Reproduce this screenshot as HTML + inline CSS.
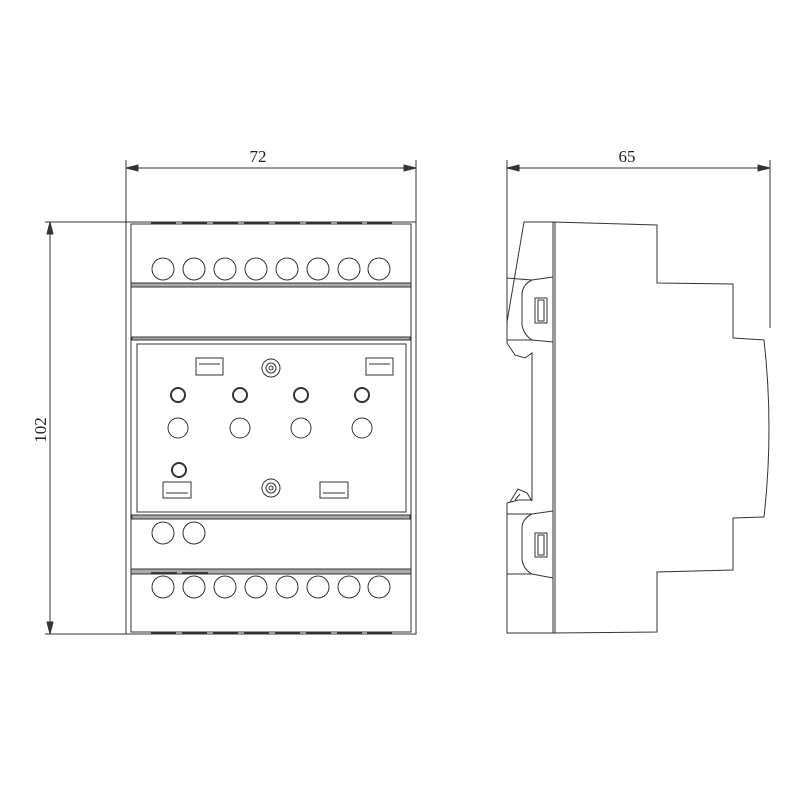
<!DOCTYPE html>
<html><head><meta charset="utf-8"><style>body{margin:0;background:#fff}svg{display:block}</style></head><body>
<svg width="800" height="800" viewBox="0 0 800 800" xmlns="http://www.w3.org/2000/svg" font-family="Liberation Serif, serif">
<g stroke="#333" stroke-width="1" fill="none">
<!-- dimensions -->
<line x1="126" y1="160" x2="126" y2="222"/><line x1="416" y1="160" x2="416" y2="222"/>
<line x1="126" y1="168" x2="416" y2="168"/>
<path d="M126 168 l12 -3 v6z M416 168 l-12 -3 v6z" fill="#333"/>
<line x1="45" y1="222" x2="126" y2="222"/><line x1="45" y1="634" x2="126" y2="634"/>
<line x1="50" y1="222" x2="50" y2="634"/>
<path d="M50 222 l-3 12 h6z M50 634 l-3 -12 h6z" fill="#333"/>
<line x1="507" y1="160" x2="507" y2="322"/><line x1="770" y1="160" x2="770" y2="328"/>
<line x1="507" y1="168" x2="770" y2="168"/>
<path d="M507 168 l12 -3 v6z M770 168 l-12 -3 v6z" fill="#333"/>
<!-- front view -->
<rect x="126" y="222" width="290" height="412"/>
<rect x="131" y="224" width="280" height="408"/>
<rect x="131" y="283" width="280" height="4" fill="#aaa"/>
<rect x="132" y="337" width="278" height="3" fill="#aaa"/>
<rect x="131" y="340" width="280" height="177"/>
<rect x="137" y="344" width="269" height="168"/>
<rect x="132" y="515" width="278" height="4" fill="#aaa"/>
<rect x="131" y="569" width="280" height="5" fill="#aaa"/>
<g stroke-width="1.8">
<line x1="151" y1="223" x2="176" y2="223"/><line x1="182" y1="223" x2="207" y2="223"/><line x1="213" y1="223" x2="238" y2="223"/><line x1="244" y1="223" x2="269" y2="223"/><line x1="275" y1="223" x2="300" y2="223"/><line x1="306" y1="223" x2="331" y2="223"/><line x1="337" y1="223" x2="362" y2="223"/><line x1="367" y1="223" x2="392" y2="223"/>
<line x1="151" y1="633" x2="176" y2="633"/><line x1="182" y1="633" x2="207" y2="633"/><line x1="213" y1="633" x2="238" y2="633"/><line x1="244" y1="633" x2="269" y2="633"/><line x1="275" y1="633" x2="300" y2="633"/><line x1="306" y1="633" x2="331" y2="633"/><line x1="337" y1="633" x2="362" y2="633"/><line x1="367" y1="633" x2="392" y2="633"/>
<line x1="151" y1="573" x2="177" y2="573"/><line x1="182" y1="573" x2="208" y2="573"/>
</g>
<g>
<circle cx="163" cy="269" r="11"/><circle cx="194" cy="269" r="11"/><circle cx="225" cy="269" r="11"/><circle cx="256" cy="269" r="11"/><circle cx="287" cy="269" r="11"/><circle cx="318" cy="269" r="11"/><circle cx="349" cy="269" r="11"/><circle cx="379" cy="269" r="11"/>
<circle cx="163" cy="587" r="11"/><circle cx="194" cy="587" r="11"/><circle cx="225" cy="587" r="11"/><circle cx="256" cy="587" r="11"/><circle cx="287" cy="587" r="11"/><circle cx="318" cy="587" r="11"/><circle cx="349" cy="587" r="11"/><circle cx="379" cy="587" r="11"/>
<circle cx="163" cy="533" r="11"/><circle cx="194" cy="533" r="11"/>
</g>
<rect x="196" y="358" width="27" height="17"/><line x1="199" y1="364" x2="220" y2="364"/>
<rect x="366" y="358" width="27" height="17"/><line x1="369" y1="364" x2="390" y2="364"/>
<circle cx="271" cy="368" r="9"/><circle cx="271" cy="368" r="5"/><circle cx="271" cy="368" r="2"/>
<g stroke-width="2"><circle cx="178" cy="395" r="7"/><circle cx="240" cy="395" r="7"/><circle cx="301" cy="395" r="7"/><circle cx="362" cy="395" r="7"/><circle cx="179" cy="470" r="7"/></g>
<circle cx="178" cy="428" r="10"/><circle cx="240" cy="428" r="10"/><circle cx="301" cy="428" r="10"/><circle cx="362" cy="428" r="10"/>
<rect x="163" y="482" width="28" height="16"/><line x1="166" y1="493" x2="188" y2="493"/>
<rect x="320" y="482" width="28" height="16"/><line x1="323" y1="493" x2="345" y2="493"/>
<circle cx="271" cy="488" r="9"/><circle cx="271" cy="488" r="5"/><circle cx="271" cy="488" r="2"/>
<!-- side view -->
<path d="M553 222 L657 225 L657 283 L733 284 L733 338 L764 340 Q774 428 764 517 L733 518 L733 570 L657 572 L657 632 L553 633 Z"/>
<path d="M555 222 L555 633"/>
<path d="M553 222 L524 222 L507 322 L507 343 L515 355 L525 358 L532 353 L532 500 L518 500 L507 503 L507 633 L553 633"/>
<path d="M507 278 L532 280 L553 277 M507 340 L532 340 L553 342 M507 514 L532 514 L553 511 M507 574 L532 574 L553 578"/>
<path d="M532 280 Q522 285 522 295 L522 325 Q524 335 532 340 M532 514 Q522 519 522 528 L522 560 Q524 570 532 574"/>
<rect x="535" y="298" width="12" height="25"/><rect x="538" y="300" width="6" height="21"/>
<rect x="535" y="533" width="12" height="24"/><rect x="538" y="535" width="6" height="20"/>
<path d="M510 502 L518 489 L527 493 L532 501 M515 500 L520 494"/>
</g>
<g fill="#222" font-size="17">
<text x="258" y="162" text-anchor="middle">72</text>
<text x="627" y="162" text-anchor="middle">65</text>
<text transform="translate(46,430) rotate(-90)" text-anchor="middle">102</text>
</g>
</svg>
</body></html>
